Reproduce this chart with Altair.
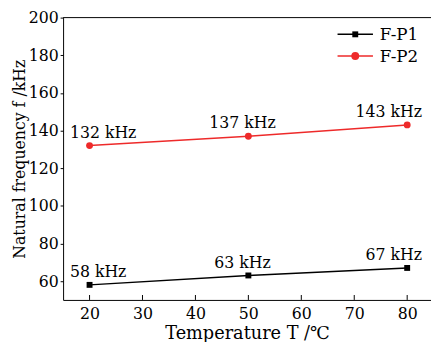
import altair as alt
import pandas as pd

temps = [20, 50, 80]
series_names = ["F-P1", "F-P2"]
fp1 = [58, 63, 67]
fp2 = [132, 137, 143]
labels_fp1 = ["58 kHz", "63 kHz", "67 kHz"]
labels_fp2 = ["132 kHz", "137 kHz", "143 kHz"]
x_ticks = [20, 30, 40, 50, 60, 70, 80]
y_ticks = [60, 80, 100, 120, 140, 160, 180, 200]
colors = ["#000000", "#ee2a2a"]
shapes = ["square", "circle"]

rows = []
for s, vals, labs in [(series_names[0], fp1, labels_fp1), (series_names[1], fp2, labels_fp2)]:
    for t, v, l in zip(temps, vals, labs):
        rows.append({"series": s, "T": t, "f": v, "label": l})
df = pd.DataFrame(rows)
ticks_df = pd.DataFrame({"T": x_ticks})
legend_df = pd.DataFrame({"series": series_names})

W, H = 374, 287
FONT = "DejaVu Serif"

xs = alt.Scale(domain=[15, 84.5], nice=False, zero=False)
ys = alt.Scale(domain=[50, 200], nice=False, zero=False)
cs = alt.Scale(domain=series_names, range=colors)

base = alt.Chart(df)

X = alt.X("T:Q", scale=xs, axis=alt.Axis(values=x_ticks, ticks=False, title="Temperature T /℃",
                                         labelPadding=6, titlePadding=3, titleFontSize=18,
                                         grid=False))
Y = alt.Y("f:Q", scale=ys, axis=alt.Axis(values=y_ticks, tickSize=3, title="Natural frequency f /kHz",
                                         labelPadding=2, titlePadding=1, titleFontSize=16,
                                         grid=False))

line = base.mark_line(strokeWidth=1.5).encode(
    x=X, y=Y,
    color=alt.Color("series:N", scale=cs, legend=None),
)

sq = base.transform_filter(alt.datum.series == series_names[0]).mark_point(
    shape=shapes[0], filled=True, size=36, opacity=1, color=colors[0]
).encode(x=X, y=Y)

ci = base.transform_filter(alt.datum.series == series_names[1]).mark_point(
    shape=shapes[1], filled=True, size=49, opacity=1, color=colors[1]
).encode(x=X, y=Y)

def text_layer(tval, align, dx):
    return base.transform_filter(alt.datum.T == tval).mark_text(
        align=align, baseline="alphabetic", dx=dx, dy=-8, font=FONT, fontSize=16, color="black"
    ).encode(x=X, y=Y, text="label:N")

t1 = text_layer(temps[0], "left", -20)
t2 = text_layer(temps[1], "center", -6)
t3 = text_layer(temps[2], "right", 15)

xticks = alt.Chart(ticks_df).mark_rule(color="black", strokeWidth=1).encode(
    x=X, y=alt.value(H), y2=alt.value(H - 5)
)

frame = alt.Chart(pd.DataFrame({"k": [0]})).mark_rule(color="black", strokeWidth=1).encode(
    x=alt.value(0), x2=alt.value(W), y=alt.value(0)
)

# legend (drawn manually): one row per series
legend_layers = []
row_y = [17, 39]
marker_sizes = [36, 64]
for i, s in enumerate(series_names):
    lb = alt.Chart(legend_df).transform_filter(alt.datum.series == s)
    legend_layers.append(lb.mark_rule(color=colors[i], strokeWidth=1.5).encode(
        x=alt.value(279), x2=alt.value(315), y=alt.value(row_y[i])))
    legend_layers.append(lb.mark_point(shape=shapes[i], filled=True, size=marker_sizes[i],
                                       opacity=1, color=colors[i]).encode(
        x=alt.value(297), y=alt.value(row_y[i])))
    legend_layers.append(lb.mark_text(align="left", baseline="middle", font=FONT, fontSize=17,
                                      color="black", dy=1).encode(
        x=alt.value(322), y=alt.value(row_y[i]), text="series:N"))

chart = alt.layer(line, sq, ci, t1, t2, t3, xticks, frame, *legend_layers).properties(
    width=W, height=H,
    autosize=alt.AutoSizeParams(type="none"),
    padding={"left": 56, "top": 7, "right": 0, "bottom": 40},
).configure_view(stroke=None).configure_axis(
    labelFont=FONT, titleFont=FONT, labelFontSize=16,
    labelColor="black", titleColor="black", domainColor="black", tickColor="black",
    titleFontWeight="normal", domainWidth=1, tickWidth=1,
)

chart.save("out.html", embed_options={"renderer": "svg", "actions": False})
